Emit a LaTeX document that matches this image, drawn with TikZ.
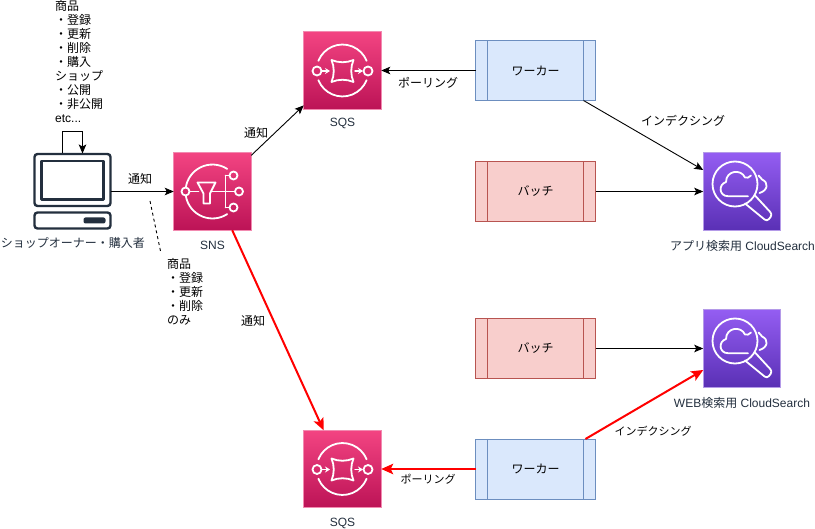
\documentclass[tikz,border=0pt]{standalone}
\usepackage{fontspec}
\setmainfont{Liberation Sans}
\newfontfamily\jp{Noto Sans CJK JP}
\usetikzlibrary{arrows.meta,calc}
\definecolor{inkdark}{HTML}{232F3E}
\definecolor{pinktop}{HTML}{F34482}
\definecolor{pinkbot}{HTML}{BC1356}
\definecolor{pinkedge}{HTML}{F28AB0}
\definecolor{purptop}{HTML}{945DF2}
\definecolor{purpbot}{HTML}{5A30B5}
\definecolor{purpedge}{HTML}{B49AE8}
\definecolor{bluefill}{HTML}{DAE8FC}
\definecolor{blueedge}{HTML}{6C8EBF}
\definecolor{redfill}{HTML}{F8CECC}
\definecolor{rededge}{HTML}{B85450}
\tikzset{
  txt/.style={font=\fontsize{12}{14}\selectfont\jp,inner sep=0pt,align=left,text=black},
  smalltxt/.style={txt,font=\fontsize{11}{14}\selectfont\jp},
  ilabel/.style={font=\fontsize{12}{14}\selectfont,inner sep=0pt,text=inkdark},
  icon/.style={minimum size=77.5pt,inner sep=0pt,outer sep=0pt,draw,line width=0.8pt},
  pinkicon/.style={icon,draw=pinkedge,top color=pinktop,bottom color=pinkbot},
  purpicon/.style={icon,draw=purpedge,top color=purptop,bottom color=purpbot},
  proc/.style={minimum width=120pt,minimum height=60pt,inner sep=0pt,outer sep=0pt,draw,line width=0.9pt,
    font=\fontsize{12}{14}\selectfont\jp,
    path picture={
      \draw[line width=0.9pt] ($(path picture bounding box.north west)+(12pt,0)$) -- ($(path picture bounding box.south west)+(12pt,0)$);
      \draw[line width=0.9pt] ($(path picture bounding box.north east)+(-12pt,0)$) -- ($(path picture bounding box.south east)+(-12pt,0)$);
    }},
  worker/.style={proc,fill=bluefill,draw=blueedge},
  batch/.style={proc,fill=redfill,draw=rededge},
  conn/.style={line width=0.9pt,draw=black,-{Stealth[length=9pt,width=7.5pt,inset=2pt]}},
  redconn/.style={line width=2pt,draw=red,-{Stealth[length=12pt,width=10.5pt,inset=2.6pt]}},
  wl/.style={draw=white,line width=1.8pt,line cap=round,line join=round},
  dk/.style={draw=inkdark,line width=2.4pt,line join=round},
}
\begin{document}
\begin{tikzpicture}[x=1pt,y=-1pt]
\useasboundingbox (0,0) rectangle (815,529);

% icon nodes
\node[pinkicon] (sns) at (212.5,191.5) {};
\node[pinkicon] (sqsa) at (342.5,70.5) {};
\node[pinkicon] (sqsb) at (342.5,469) {};
\node[purpicon] (csa) at (742,191.5) {};
\node[purpicon] (csb) at (742,348.5) {};

% process boxes
\node[worker] (wa) at (535.5,70.5) {ワーカー};
\node[worker] (wb) at (535.5,469) {ワーカー};
\node[batch] (ba) at (535.5,191.5) {バッチ};
\node[batch] (bb) at (535.5,348.5) {バッチ};

% computer
\node[minimum width=76pt,minimum height=76pt,inner sep=0pt,outer sep=0pt] (pc) at (72.5,191.5) {};
\begin{scope}[shift={(pc.center)}]
  \draw[dk,rounded corners=3pt] (-38,-37.5) rectangle (38,14.5);
  \draw[dk] (-31,-30.5) rectangle (31,8);
  \draw[dk,rounded corners=3pt] (-38,21) rectangle (38,37);
  \fill[inkdark,rounded corners=2pt] (11,26) rectangle (33,32);
\end{scope}

% SNS glyph
\begin{scope}[shift={(sns.center)}]
  \draw[wl] (14.7,-22.6) arc[start angle=57,end angle=171,radius=27pt];
  \draw[wl] (-26.7,4.2) arc[start angle=189,end angle=303,radius=27pt];
  \draw[wl] (-27,0) circle[radius=4pt];
  \draw[wl] (-23,0) -- (-14,0);
  \draw[wl] (-15,-9) -- (3,-9) -- (-2.5,2) -- (-2.5,12) -- (-9,12) -- (-9,2) -- cycle;
  \draw[wl] (0,0) -- (22.5,0);
  \draw[wl] (13,-16) -- (13,16);
  \draw[wl] (13,-16) -- (17,-16);
  \draw[wl] (13,16) -- (17,16);
  \draw[wl] (21,-16) circle[radius=4pt];
  \draw[wl] (26.5,0) circle[radius=4pt];
  \draw[wl] (21,16) circle[radius=4pt];
\end{scope}

% SQS glyphs
\foreach \q in {sqsa,sqsb}{
\begin{scope}[shift={(\q.center)}]
  \draw[wl] (-24.1,-9.7) arc[start angle=158,end angle=22,radius=26pt];
  \draw[wl] (-24.1,9.7) arc[start angle=202,end angle=338,radius=26pt];
  \draw[wl] (-25.5,0.5) circle[radius=4.5pt];
  \draw[wl] (25.5,0.5) circle[radius=4.5pt];
  \draw[wl,line width=1.5pt,-{Stealth[length=5pt,width=6pt]}] (-20.5,0.5) -- (-12.5,0.5);
  \draw[wl,line width=1.5pt,-{Stealth[length=5pt,width=6pt]}] (12.5,0.5) -- (20.5,0.5);
  \draw[wl] (-11,-10.5) .. controls (-4,-7.5) and (4,-7.5) .. (11,-10.5)
     .. controls (8,-3.5) and (8,4.5) .. (11,11.5)
     .. controls (4,8.5) and (-4,8.5) .. (-11,11.5)
     .. controls (-8,4.5) and (-8,-3.5) .. cycle;
\end{scope}}

% CloudSearch glyphs
\foreach \q in {csa,csb}{
\begin{scope}[shift={(\q.center)}]
  \draw[wl] (-7,-7.5) circle[radius=22.5pt];
  \draw[wl,rounded corners=3pt] (13,4) -- (30.5,23) -- (25,30) -- (3,12);
  \draw[wl] (6,4.7) -- (-14,4.7) .. controls (-23,4.7) and (-24,-7) .. (-16,-9.5)
     .. controls (-16,-21) and (-1,-23) .. (3,-14)
     .. controls (5,-13) and (7,-14) .. (9,-16);
  \draw[wl] (16.5,-16) .. controls (19,-15) and (18,-13) .. (20,-12)
     .. controls (27,-9) and (26,-1) .. (17.5,1.5);
\end{scope}}

% labels of icons
\node[ilabel] (lsns) at (212.5,245.5) {SNS};
\node[ilabel] (lsqsa) at (342.5,123.5) {SQS};
\node[ilabel] (lsqsb) at (342.5,523) {SQS};
\node[ilabel] (lcsa) at (742.5,246) {{\jp アプリ検索用} CloudSearch};
\node[ilabel] (lcsb) at (742,403) {WEB{\jp 検索用} CloudSearch};
\node[ilabel,font=\fontsize{12}{14}\selectfont\jp] (lpc) at (73,243) {ショップオーナー・購入者};

% free texts
\node[txt,anchor=north west] (ta) at (55,0.5) {商品\\・登録\\・更新\\・削除\\・購入\\ショップ\\・公開\\・非公開\\{\rmfamily etc...}};
\node[txt,anchor=north west] (tb) at (167,258.5) {商品\\・登録\\・更新\\・削除\\のみ};

% connectors
\draw[conn] ($(pc.north)+(-10,0)$) -- ($(pc.north)+(-10,-22)$) -- ($(pc.north)+(10,-22)$) -- ($(pc.north)+(10,0)$);
\draw[conn] (pc.east) -- (sns.west);
\coordinate (dashtop) at (150,201);
\coordinate (dashend) at (160.5,251);
\draw[line width=0.9pt,dash pattern=on 3pt off 3pt] (dashtop) -- (dashend);
\draw[conn] (sns.43) -- (sqsa.222.3);
\draw[conn] (wa.west) -- (sqsa.east);
\draw[conn] (wa.-32.3) -- (csa.151.7);
\draw[conn] (ba.east) -- (csa.west);
\draw[conn] (bb.east) -- (csb.west);
\draw[redconn] (sns.-63.4) -- (sqsb.116.6);
\draw[redconn] (wb.west) -- (sqsb.east);
\draw[redconn] (wb.31.2) -- (csb.209.4);

% connector labels
\node[txt,fill=white] (e1) at (140,178.5) {通知};
\node[txt,fill=white] (e2) at (256,132.5) {通知};
\node[txt,fill=white] (e3) at (428,82.5) {ポーリング};
\node[txt,fill=white] (e4) at (683,120.5) {インデクシング};
\node[txt,fill=white] (e5) at (253,320.5) {通知};
\node[smalltxt,fill=white] (e6) at (653,431.5) {インデクシング};
\node[smalltxt,fill=white] (e7) at (428,479.5) {ポーリング};
\end{tikzpicture}
\end{document}
